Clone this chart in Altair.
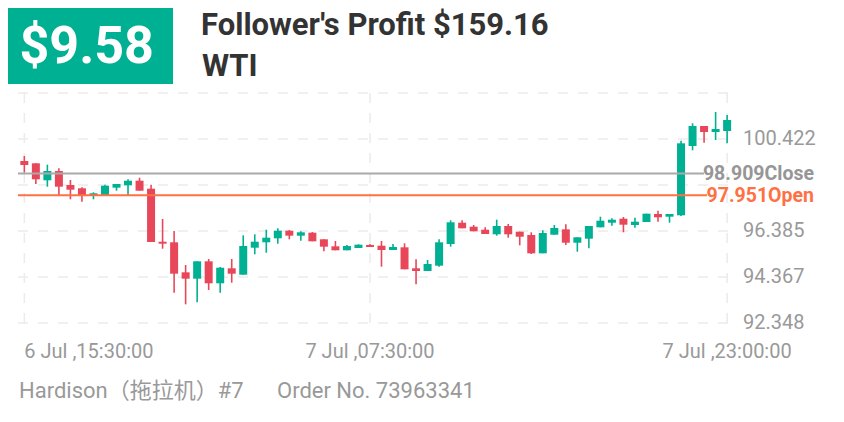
import altair as alt
import pandas as pd

# ---------------- data ----------------
opens = [99.456, 99.355, 98.609, 99.018, 98.403, 98.259, 97.951, 97.964, 98.285, 98.390,
         98.592, 98.241, 95.915, 95.889, 94.572, 94.292, 95.055, 94.090, 94.748, 94.467,
         95.652, 95.889, 96.064, 96.398, 96.179, 96.310, 96.021, 95.713, 95.538, 95.639,
         95.770, 95.739, 95.551, 95.669, 94.748, 94.630, 94.862, 95.814, 96.749, 96.573,
         96.442, 96.240, 96.604, 96.354, 96.209, 95.406, 96.222, 96.459, 95.871, 96.047,
         96.547, 96.749, 96.924, 96.648, 96.780, 97.131, 97.012, 97.074, 100.115, 100.992,
         100.729, 100.773]
highs = [99.676, 99.355, 99.294, 99.136, 98.623, 98.302, 98.083, 98.416, 98.447, 98.653,
         98.723, 98.416, 96.911, 96.385, 94.893, 95.055, 95.156, 94.805, 95.156, 96.196,
         96.240, 96.442, 96.503, 96.429, 96.371, 96.341, 96.021, 95.946, 95.770, 95.801,
         95.814, 95.946, 95.814, 95.845, 95.143, 95.112, 96.021, 96.854, 96.854, 96.648,
         96.547, 96.881, 96.692, 96.354, 96.328, 96.415, 96.648, 96.679, 96.108, 96.604,
         97.012, 96.942, 96.999, 96.968, 97.144, 97.276, 97.131, 100.347, 101.111, 100.992,
         101.606, 101.475]
lows = [98.943, 98.447, 98.329, 97.921, 97.776, 97.670, 97.776, 97.964, 98.153, 97.964,
        98.153, 95.902, 95.608, 93.677, 93.168, 93.256, 93.796, 93.677, 94.116, 94.467,
        95.362, 95.433, 95.827, 96.021, 95.959, 95.933, 95.494, 95.538, 95.538, 95.639,
        95.683, 94.818, 95.551, 94.704, 94.046, 94.630, 94.818, 95.696, 96.503, 96.371,
        96.253, 96.179, 96.091, 95.757, 95.375, 95.406, 96.222, 95.770, 95.476, 95.625,
        96.547, 96.617, 96.328, 96.529, 96.780, 96.793, 96.749, 97.043, 99.926, 100.259,
        100.378, 100.233]
closes = [99.281, 98.653, 99.018, 98.329, 98.197, 97.951, 98.039, 98.372, 98.447, 98.592,
          98.153, 95.902, 95.827, 94.511, 94.292, 95.055, 94.090, 94.774, 94.511, 95.727,
          95.915, 96.091, 96.398, 96.179, 96.328, 95.933, 95.696, 95.538, 95.727, 95.784,
          95.683, 95.551, 95.683, 94.704, 94.630, 94.937, 95.889, 96.766, 96.503, 96.371,
          96.253, 96.604, 96.240, 96.134, 95.406, 96.297, 96.516, 95.871, 96.108, 96.604,
          96.837, 96.881, 96.661, 96.793, 97.144, 96.986, 97.131, 100.233, 100.992, 100.729,
          100.860, 101.255]
candle_index = list(range(len(opens)))

tick_index = [0, 30, 61]
tick_labels = ["6 Jul ,15:30:00", "7 Jul ,07:30:00", "7 Jul ,23:00:00"]
grid_prices = [92.348, 94.367, 96.385, 98.404, 100.422, 102.44]
shown_prices = [92.348, 94.367, 96.385, 100.422]

close_price = 98.909
open_price = 97.951
badge_text = "$9.58"
title_text = "Follower's Profit $159.16"
symbol_text = "WTI"
footer_left = "Hardison（拖拉机）#7"
footer_right = "Order No. 73963341"

# ---------------- styling ----------------
GREEN = "#00B092"
RED = "#E8475A"
ORANGE = "#FF7043"
GRAY_LINE = "#A9A9A9"
GRAY_TEXT = "#999999"
GRID = "#EBEBEB"
DARK = "#333333"
FONT = "Roboto, 'Noto Sans CJK SC', sans-serif"
W, H = 712, 230

df = pd.DataFrame({"i": candle_index, "open": opens, "high": highs,
                   "low": lows, "close": closes})

xscale = alt.Scale(domain=[-0.55, 61.25], nice=False, zero=False, padding=0)
yscale = alt.Scale(domain=[grid_prices[0], grid_prices[-1]], nice=False, zero=False, padding=0)


def X(field):
    return alt.X(field, scale=xscale, axis=None)


def Y(field):
    return alt.Y(field, scale=yscale, axis=None)


# grid
hgrid = alt.Chart(pd.DataFrame({"price": grid_prices})).mark_rule(
    color=GRID, strokeWidth=1.5, strokeDash=[10, 10]).encode(
    y=Y("price:Q"), x=alt.value(0), x2=alt.value(W))
vgrid = alt.Chart(pd.DataFrame({"i": tick_index})).mark_rule(
    color=GRID, strokeWidth=1.5, strokeDash=[10, 10]).encode(
    x=X("i:Q"), y=alt.value(0), y2=alt.value(H))

# y labels
ylabels = alt.Chart(pd.DataFrame({"price": shown_prices,
                                  "lbl": [f"{p:.3f}" for p in shown_prices]})).mark_text(
    align="left", baseline="middle", fontSize=20, font=FONT, color=GRAY_TEXT).encode(
    y=Y("price:Q"), x=alt.value(W + 13), text="lbl:N")

# x labels: first flush-left, the rest centred
xlab_df = pd.DataFrame({"i": tick_index, "lbl": tick_labels})
xlabels_first = alt.Chart(xlab_df.iloc[:1]).mark_text(
    align="left", baseline="alphabetic", fontSize=20, font=FONT, color=GRAY_TEXT).encode(
    x=X("i:Q"), y=alt.value(H + 34.5), text="lbl:N")
xlabels_rest = alt.Chart(xlab_df.iloc[1:]).mark_text(
    align="center", baseline="alphabetic", fontSize=20, font=FONT, color=GRAY_TEXT).encode(
    x=X("i:Q"), y=alt.value(H + 34.5), text="lbl:N")

candle_color = alt.condition("datum.close >= datum.open", alt.value(GREEN), alt.value(RED))

wicks = alt.Chart(df).mark_rule(strokeWidth=1.6).encode(
    x=X("i:Q"), y=Y("low:Q"), y2="high:Q", color=candle_color)
bodies = alt.Chart(df).mark_bar(size=8).encode(
    x=X("i:Q"), y=Y("open:Q"), y2="close:Q", color=candle_color)

close_df = pd.DataFrame({"price": [close_price], "label": [f"{close_price:.3f}Close"]})
open_df = pd.DataFrame({"price": [open_price], "label": [f"{open_price:.3f}Open"]})

close_rule = alt.Chart(close_df).mark_rule(color=GRAY_LINE, strokeWidth=2).encode(
    y=Y("price:Q"), x=alt.value(0), x2=alt.value(686))
open_rule = alt.Chart(open_df).mark_rule(color=ORANGE, strokeWidth=2).encode(
    y=Y("price:Q"), x=alt.value(0), x2=alt.value(689))
close_lbl = alt.Chart(close_df).mark_text(
    align="right", baseline="alphabetic", dy=7, fontSize=19.5, fontWeight="bold",
    font=FONT, color="#969696").encode(y=Y("price:Q"), x=alt.value(796), text="label:N")
open_lbl = alt.Chart(open_df).mark_text(
    align="right", baseline="alphabetic", dy=7, fontSize=19.5, fontWeight="bold",
    font=FONT, color=ORANGE).encode(y=Y("price:Q"), x=alt.value(796), text="label:N")

# header / footer
badge_box = alt.Chart(pd.DataFrame({"t": [badge_text]})).mark_rect(color=GREEN).encode(
    x=alt.value(-10), x2=alt.value(155), y=alt.value(-85), y2=alt.value(-9))
badge = alt.Chart(pd.DataFrame({"t": [badge_text]})).mark_text(
    align="center", baseline="alphabetic", fontSize=52, fontWeight="bold",
    font=FONT, color="white").encode(x=alt.value(68.7), y=alt.value(-30.5), text="t:N")
title = alt.Chart(pd.DataFrame({"t": [title_text]})).mark_text(
    align="left", baseline="alphabetic", fontSize=31, fontWeight="bold",
    font=FONT, color=DARK).encode(x=alt.value(183), y=alt.value(-58), text="t:N")
symbol = alt.Chart(pd.DataFrame({"t": [symbol_text]})).mark_text(
    align="left", baseline="alphabetic", fontSize=31, fontWeight="bold",
    font=FONT, color=DARK).encode(x=alt.value(184), y=alt.value(-17), text="t:N")
foot1 = alt.Chart(pd.DataFrame({"t": [footer_left]})).mark_text(
    align="left", baseline="alphabetic", fontSize=22,
    font=FONT, color=GRAY_TEXT).encode(x=alt.value(1), y=alt.value(304.5), text="t:N")
foot2 = alt.Chart(pd.DataFrame({"t": [footer_right]})).mark_text(
    align="left", baseline="alphabetic", fontSize=22,
    font=FONT, color=GRAY_TEXT).encode(x=alt.value(259), y=alt.value(304.5), text="t:N")

chart = alt.layer(
    hgrid, vgrid, ylabels, xlabels_first, xlabels_rest,
    wicks, bodies, close_rule, open_rule, close_lbl, open_lbl,
    badge_box, badge, title, symbol, foot1, foot2,
).properties(
    width=W, height=H,
    autosize=alt.AutoSizeParams(type="none"),
    padding={"left": 10, "top": 85, "right": 96, "bottom": 80},
    background="white",
).configure(font=FONT).configure_view(stroke=None)

chart.save("out.html", embed_options={"renderer": "svg", "actions": False})
